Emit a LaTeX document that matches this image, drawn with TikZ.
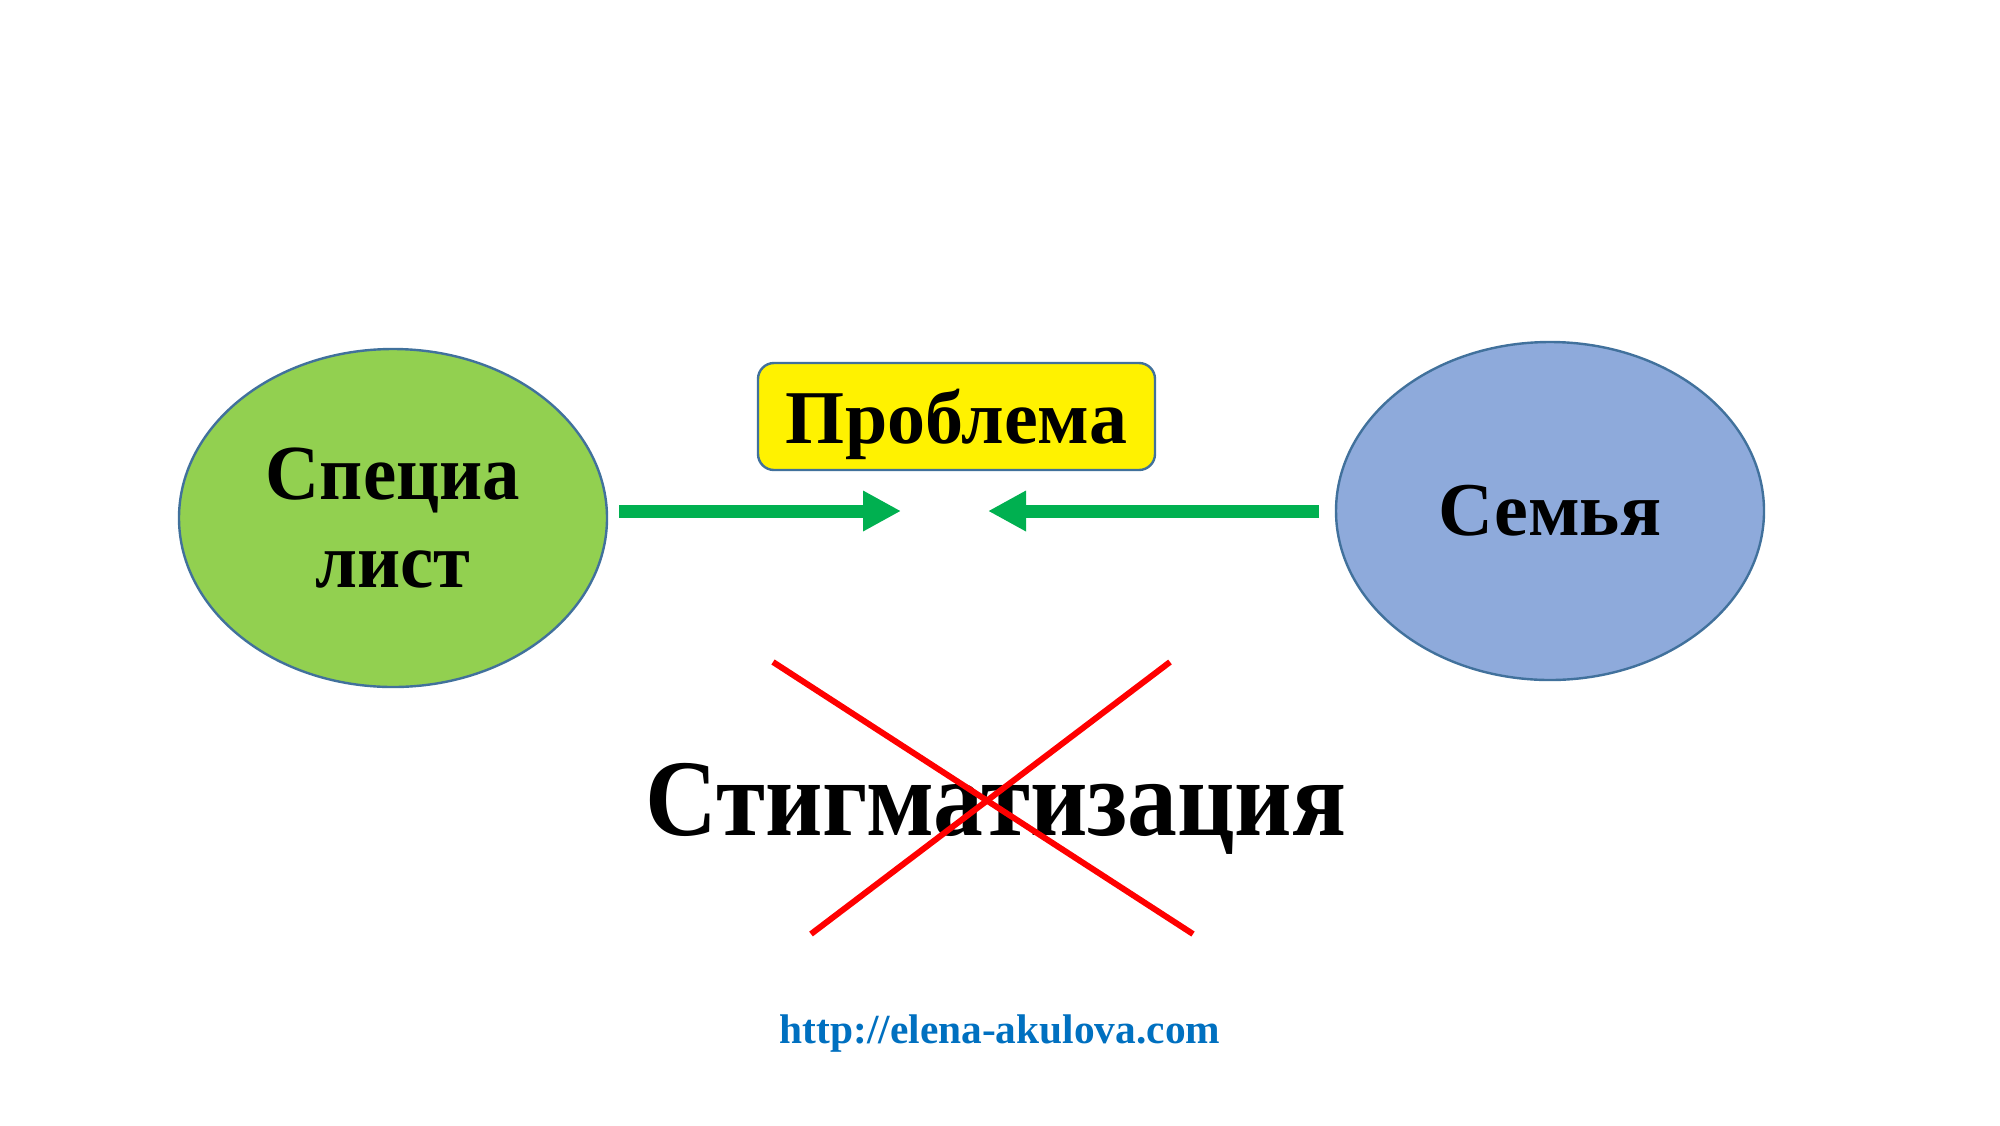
\documentclass[tikz,border=0pt]{standalone}
\usepackage{fontspec}
\setmainfont{Liberation Serif}
\newfontfamily\narrowserif[FakeStretch=0.915]{Liberation Serif}
\newfontfamily\slimserif[FakeStretch=0.96]{Liberation Serif}
\usetikzlibrary{shapes.geometric,arrows.meta}
\definecolor{ellgreen}{HTML}{92D050}
\definecolor{ellblue}{HTML}{8EAADB}
\definecolor{edgeblue}{HTML}{41719C}
\definecolor{arrgreen}{HTML}{00B050}
\definecolor{urlblue}{HTML}{0070C0}
\definecolor{crossred}{HTML}{FF0000}
\tikzset{
  bubble/.style={ellipse, draw=edgeblue, line width=1.2pt, minimum width=214pt, minimum height=169pt, inner sep=0pt, align=center, font=\slimserif\fontsize{39}{44}\selectfont\bfseries},
  probbox/.style={draw=edgeblue, line width=1.2pt, fill=yellow, rounded corners=8pt, minimum width=198.5pt, minimum height=53.5pt, inner sep=0pt, text height=30pt, text depth=3.5pt, font=\fontsize{38}{44}\selectfont\bfseries},
  garrow/.style={draw=arrgreen, line width=6.5pt, -{Triangle[length=19pt,width=19pt]}},
  crossline/.style={draw=crossred, line width=3pt},
}
\begin{document}
\begin{tikzpicture}[x=0.5pt,y=-0.5pt]
\useasboundingbox[fill=white] (0,0) rectangle (2000,1125);
\node[bubble, fill=ellgreen] (spec) at (393,518) {Специа\\лист};
\node[bubble, fill=ellblue, font=\fontsize{38}{44}\selectfont\bfseries] (fam) at (1550,511) {Семья};
\node[probbox] (prob) at (956.5,416.5) {Проблема};
\coordinate (a1s) at (619,511);
\coordinate (a1e) at (901,511);
\coordinate (a2s) at (1319,511);
\coordinate (a2e) at (988,511);
\draw[garrow] (a1s) -- (a1e);
\draw[garrow] (a2s) -- (a2e);
\node[anchor=base, inner sep=0pt, font=\narrowserif\fontsize{54.5}{60}\selectfont\bfseries] (stig) at (996,835) {Стигматизация};
\coordinate (c1s) at (773,662);
\coordinate (c1e) at (1193,934);
\coordinate (c2s) at (1170,662);
\coordinate (c2e) at (811,934);
\draw[crossline] (c1s) -- (c1e);
\draw[crossline] (c2s) -- (c2e);
\node[anchor=base, inner sep=0pt, text=urlblue, font=\fontsize{20.7}{24}\selectfont\bfseries] (url) at (1000,1043) {http://elena-akulova.com};
\end{tikzpicture}
\end{document}
